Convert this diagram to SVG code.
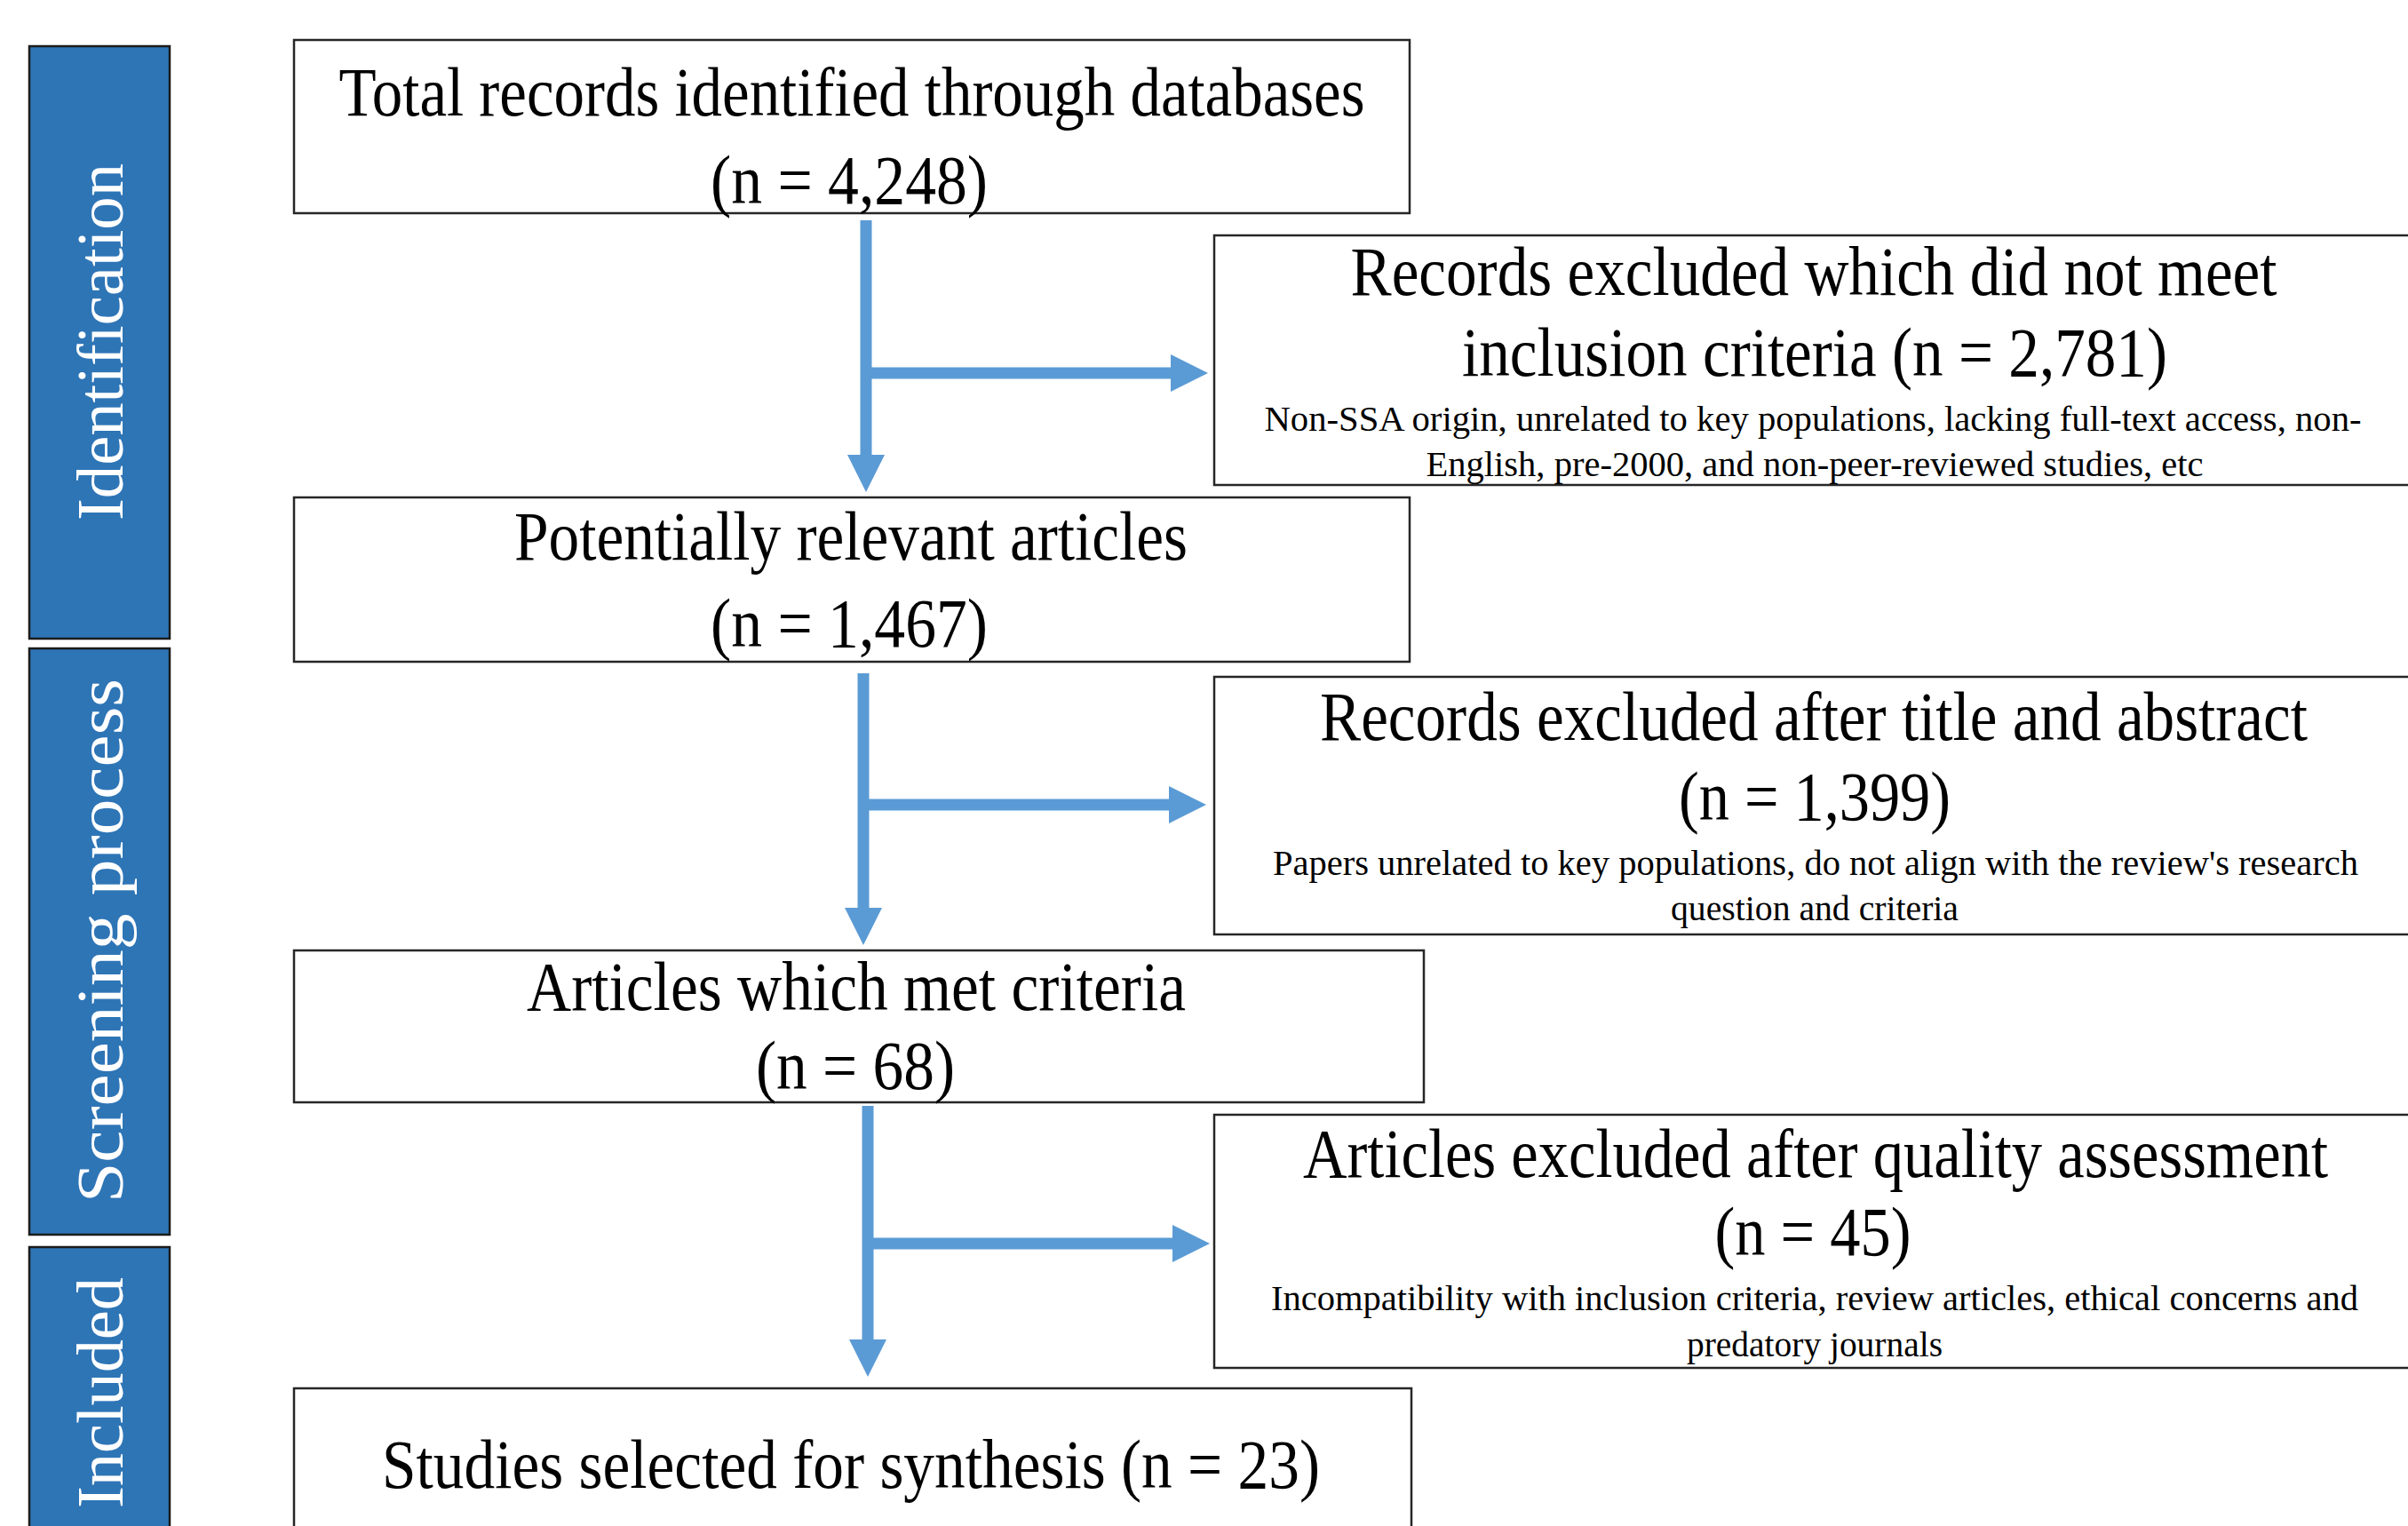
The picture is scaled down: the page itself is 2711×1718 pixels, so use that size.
<svg xmlns="http://www.w3.org/2000/svg" width="2711" height="1718" viewBox="0 0 2711 1718">
<style>
.bg{fill:#ffffff}
.side{fill:#2E75B6;stroke:#1b1b1b;stroke-width:2.5}
.sidetxt{font-family:"Liberation Serif","Times New Roman",serif;font-size:74px;fill:#ffffff;text-anchor:middle}
.box{fill:#ffffff;stroke:#262626;stroke-width:2.5}
.big{font-family:"Liberation Serif","Times New Roman",serif;font-size:78px;fill:#000000;text-anchor:middle}
.small{font-family:"Liberation Serif","Times New Roman",serif;font-size:41px;fill:#000000;text-anchor:middle}
.arr{fill:none;stroke:#5B9BD5;stroke-width:13;marker-end:url(#ah)}
</style>
<defs>
<marker id="ah" markerUnits="userSpaceOnUse" markerWidth="44" markerHeight="42" refX="0" refY="21" orient="auto" viewBox="0 0 44 42">
<path d="M0,0 L42,21 L0,42 z" fill="#5B9BD5"/>
</marker>
</defs>
<rect class="bg" x="0" y="0" width="2711" height="1718"/>

<g id="stage-identification">
<rect class="side" x="33" y="52" width="158" height="667"/>
<text class="sidetxt" transform="translate(138,385) rotate(-90)" textLength="402" lengthAdjust="spacingAndGlyphs">Identification</text>
</g>
<g id="stage-screening">
<rect class="side" x="33" y="730" width="158" height="660"/>
<text class="sidetxt" transform="translate(138,1059) rotate(-90)" textLength="590" lengthAdjust="spacingAndGlyphs">Screening process</text>
</g>
<g id="stage-included">
<rect class="side" x="33" y="1404" width="158" height="330"/>
<text class="sidetxt" transform="translate(138,1568) rotate(-90)" textLength="260" lengthAdjust="spacingAndGlyphs">Included</text>
</g>

<g id="connectors">
<path class="arr" d="M975,248 L975,512"/>
<path class="arr" d="M975,420 L1318,420"/>
<path class="arr" d="M972,758 L972,1022"/>
<path class="arr" d="M972,906 L1316,906"/>
<path class="arr" d="M977,1245 L977,1508"/>
<path class="arr" d="M977,1400 L1320,1400"/>
</g>

<g id="node-total">
<rect class="box" x="331" y="45" width="1256" height="195"/>
<text class="big" x="959" y="130" textLength="1155" lengthAdjust="spacingAndGlyphs">Total records identified through databases</text>
<text class="big" x="956" y="229" textLength="312" lengthAdjust="spacingAndGlyphs">(n = 4,248)</text>
</g>

<g id="node-excluded-1">
<rect class="box" x="1367" y="265" width="1360" height="281"/>
<text class="big" x="2042" y="332" textLength="1043" lengthAdjust="spacingAndGlyphs">Records excluded which did not meet</text>
<text class="big" x="2043" y="423" textLength="794" lengthAdjust="spacingAndGlyphs">inclusion criteria (n = 2,781)</text>
<text class="small" x="2041" y="485" textLength="1235" lengthAdjust="spacingAndGlyphs">Non-SSA origin, unrelated to key populations, lacking full-text access, non-</text>
<text class="small" x="2043" y="536" textLength="875" lengthAdjust="spacingAndGlyphs">English, pre-2000, and non-peer-reviewed studies, etc</text>
</g>

<g id="node-relevant">
<rect class="box" x="331" y="560" width="1256" height="185"/>
<text class="big" x="958" y="630" textLength="758" lengthAdjust="spacingAndGlyphs">Potentially relevant articles</text>
<text class="big" x="956" y="728" textLength="312" lengthAdjust="spacingAndGlyphs">(n = 1,467)</text>
</g>

<g id="node-excluded-2">
<rect class="box" x="1367" y="762" width="1360" height="290"/>
<text class="big" x="2042" y="833" textLength="1112" lengthAdjust="spacingAndGlyphs">Records excluded after title and abstract</text>
<text class="big" x="2043" y="923" textLength="306" lengthAdjust="spacingAndGlyphs">(n = 1,399)</text>
<text class="small" x="2044" y="985" textLength="1222" lengthAdjust="spacingAndGlyphs">Papers unrelated to key populations, do not align with the review's research</text>
<text class="small" x="2043" y="1036" textLength="324" lengthAdjust="spacingAndGlyphs">question and criteria</text>
</g>

<g id="node-met">
<rect class="box" x="331" y="1070" width="1272" height="171"/>
<text class="big" x="964" y="1137" textLength="742" lengthAdjust="spacingAndGlyphs">Articles which met criteria</text>
<text class="big" x="963" y="1226" textLength="224" lengthAdjust="spacingAndGlyphs">(n = 68)</text>
</g>

<g id="node-excluded-3">
<rect class="box" x="1367" y="1255" width="1360" height="285"/>
<text class="big" x="2044" y="1325" textLength="1154" lengthAdjust="spacingAndGlyphs">Articles excluded after quality assessment</text>
<text class="big" x="2041" y="1413" textLength="221" lengthAdjust="spacingAndGlyphs">(n = 45)</text>
<text class="small" x="2043" y="1475" textLength="1224" lengthAdjust="spacingAndGlyphs">Incompatibility with inclusion criteria, review articles, ethical concerns and</text>
<text class="small" x="2043" y="1527" textLength="288" lengthAdjust="spacingAndGlyphs">predatory journals</text>
</g>

<g id="node-selected">
<rect class="box" x="331" y="1563" width="1258" height="180"/>
<text class="big" x="958" y="1675" textLength="1056" lengthAdjust="spacingAndGlyphs">Studies selected for synthesis (n = 23)</text>
</g>
</svg>
